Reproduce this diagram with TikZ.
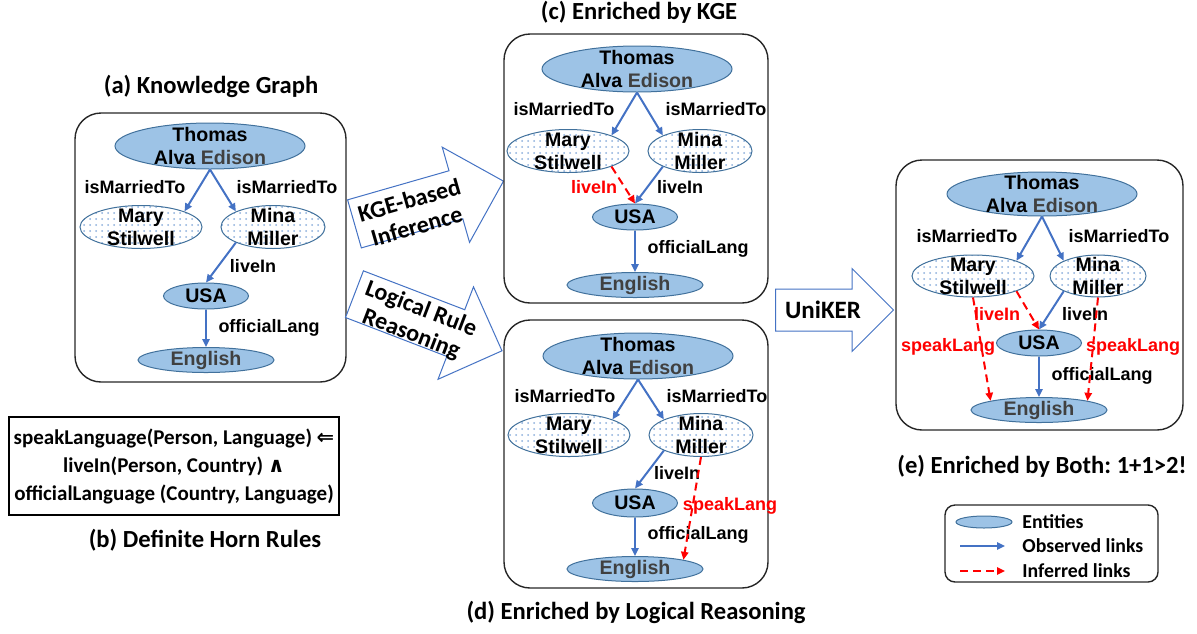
\documentclass[tikz,border=0pt]{standalone}
\usepackage{fontspec}
\setmainfont{Liberation Sans}
\newfontfamily\calibri{Carlito}
\newfontfamily\symfont{DejaVu Sans}
\usetikzlibrary{arrows.meta, shapes.geometric, shapes.arrows, patterns}
\definecolor{entfill}{RGB}{157,195,230}
\definecolor{entdraw}{RGB}{65,113,156}
\definecolor{linkblue}{RGB}{68,114,196}
\definecolor{txtgray}{RGB}{64,64,64}
\definecolor{dotblue}{RGB}{140,175,220}
\frenchspacing

\begin{document}
\begin{tikzpicture}[x=0.5pt, y=-0.5pt,
        panel/.style={draw=black!85, line width=0.7pt, rounded corners=13pt},
        entity/.style={ellipse, draw=entdraw, line width=0.5pt, fill=entfill, inner sep=0pt},
        person/.style={ellipse, draw=entdraw, line width=0.5pt, preaction={fill=white}, pattern=dots, pattern color=dotblue, inner sep=0pt, minimum width=61pt, minimum height=21.5pt},
        thomas/.style={entity, minimum width=95pt, minimum height=23pt},
        usa/.style={entity, minimum width=42.5pt, minimum height=13pt},
        english/.style={entity, minimum width=68pt, minimum height=12.5pt},
        entlabel/.style={align=center, inner sep=0pt, font=\fontsize{9.8}{11.5}\selectfont\bfseries},
        rel/.style={inner sep=0pt, font=\fontsize{9}{10}\selectfont\bfseries},
        infrel/.style={rel, text=red},
        obs/.style={draw=linkblue, line width=1pt, -{Triangle[length=4pt, width=3.6pt]}},
        infer/.style={draw=red, line width=1pt, dash pattern=on 4pt off 2.5pt, -{Triangle[length=4pt, width=3.6pt]}},
        caption/.style={inner sep=0pt, font=\calibri\fontsize{12.3}{14}\selectfont\bfseries},
        legtext/.style={inner sep=0pt, anchor=west, font=\calibri\fontsize{9.9}{11}\selectfont\bfseries},
        blockarrow/.style={single arrow, draw=linkblue, line width=0.5pt, fill=white, inner xsep=0pt, single arrow tip angle=90},
        arrowtext/.style={align=center, inner sep=0pt, font=\calibri\fontsize{12}{13.5}\selectfont\bfseries}
    ]
    \useasboundingbox (0,0) rectangle (1197,633);

    % (a) knowledge graph
    \draw[panel] (75,113) rectangle (346,382);
    \node[caption] (capA) at (211,86) {(a) Knowledge Graph};
    \node[thomas, label={[entlabel]center:{Thomas\\Alva \textcolor{txtgray}{Edison}}}] (thomasA) at (210,146) {};
    \node[person, label={[entlabel]center:{Mary\\Stilwell}}] (maryA) at (141,227) {};
    \node[person, minimum width=52pt, label={[entlabel]center:{Mina\\Miller}}] (minaA) at (273,227) {};
    \node[usa, label={[entlabel]center:USA}] (usaA) at (206,296) {};
    \node[english, label={[entlabel, text=txtgray]center:English}] (englishA) at (206,360) {};
    \node[rel] (marA1) at (135,187) {isMarriedTo};
    \node[rel] (marA2) at (287,187) {isMarriedTo};
    \node[rel] (liveA) at (253,266) {liveIn};
    \node[rel] (offA) at (269,328) {officialLang};
    \draw[obs] (thomasA.south) -- (maryA.north east);
    \draw[obs] (thomasA.south) -- (minaA.north west);
    \draw[obs] (minaA.south west) -- (usaA.north);
    \draw[obs] (usaA.south) -- (englishA.north);

    % (b) horn rule
    \node[draw, line width=0.6pt, minimum width=165pt, minimum height=49pt, align=center, inner sep=0pt,
          font=\calibri\fontsize{10.5}{14}\selectfont\bfseries] (rule) at (174,466)
          {speakLanguage(Person, Language) {\symfont ⇐}\\liveIn(Person, Country) {\symfont ∧}\\officialLanguage (Country, Language)};
    \node[caption] (capB) at (205,540) {(b) Definite Horn Rules};

    % block arrows
    \node[blockarrow, minimum height=77.5pt, minimum width=49pt, inner ysep=12.25pt, single arrow head extend=12.25pt, rotate=16, anchor=tail] (kgeArrow) at (354,224) {};
    \node[arrowtext, rotate=16] (kgeText) at (413,213) {KGE-based\\Inference};
    \node[blockarrow, minimum height=79pt, minimum width=49pt, inner ysep=12.25pt, single arrow head extend=12.25pt, rotate=-21, anchor=tail] (ruleArrow) at (354,294) {};
    \node[arrowtext, rotate=-21] (ruleText) at (416,322) {Logical Rule\\Reasoning};
    \node[blockarrow, minimum height=59pt, minimum width=41pt, inner ysep=10.25pt, single arrow head extend=10.25pt, anchor=tail] (unikerArrow) at (775,310) {};
    \node[arrowtext, font=\calibri\fontsize{12.5}{14}\selectfont\bfseries] (unikerText) at (823,310) {UniKER};

    % (c) enriched by KGE
    \draw[panel] (504,34) rectangle (768,303);
    \node[caption] (capC) at (639,12) {(c) Enriched by KGE};
    \node[thomas, label={[entlabel]center:{Thomas\\Alva \textcolor{txtgray}{Edison}}}] (thomasC) at (637,69) {};
    \node[person, label={[entlabel]center:{Mary\\Stilwell}}] (maryC) at (568,151) {};
    \node[person, minimum width=52pt, label={[entlabel]center:{Mina\\Miller}}] (minaC) at (700,151) {};
    \node[usa, label={[entlabel]center:USA}] (usaC) at (635,217) {};
    \node[english, label={[entlabel, text=txtgray]center:English}] (englishC) at (635,285) {};
    \node[rel] (marC1) at (564,109) {isMarriedTo};
    \node[rel] (marC2) at (716,109) {isMarriedTo};
    \node[infrel] (liveC1) at (594,187) {liveIn};
    \node[rel] (liveC2) at (680,187) {liveIn};
    \node[rel] (offC) at (698,249) {officialLang};
    \draw[obs] (thomasC.south) -- (maryC.north east);
    \draw[obs] (thomasC.south) -- (minaC.north west);
    \draw[obs] (minaC.south west) -- (usaC.north);
    \draw[obs] (usaC.south) -- (englishC.north);
    \draw[infer] (maryC.south east) -- (usaC.north);

    % (d) enriched by logical reasoning
    \draw[panel] (504,320) rectangle (768,588);
    \node[caption] (capD) at (636,612) {(d) Enriched by Logical Reasoning};
    \node[thomas, label={[entlabel]center:{Thomas\\Alva \textcolor{txtgray}{Edison}}}] (thomasD) at (638,356) {};
    \node[person, label={[entlabel]center:{Mary\\Stilwell}}] (maryD) at (569,435) {};
    \node[person, minimum width=52pt, label={[entlabel]center:{Mina\\Miller}}] (minaD) at (701,435) {};
    \node[usa, minimum height=14pt, label={[entlabel]center:USA}] (usaD) at (635,503) {};
    \node[english, label={[entlabel, text=txtgray]center:English}] (englishD) at (635,569) {};
    \node[rel] (marD1) at (565,396) {isMarriedTo};
    \node[rel] (marD2) at (717,396) {isMarriedTo};
    \node[rel] (liveD) at (677,473) {liveIn};
    \node[infrel] (speakD) at (730,506) {speakLang};
    \node[rel] (offD) at (698,535) {officialLang};
    \draw[obs] (thomasD.south) -- (maryD.north east);
    \draw[obs] (thomasD.south) -- (minaD.north west);
    \draw[obs] (minaD.south west) -- (usaD.north);
    \draw[obs] (usaD.south) -- (englishD.north);
    \draw[infer] (minaD.south) -- (englishD.north east);

    % (e) enriched by both
    \draw[panel] (896,160) rectangle (1183,430);
    \node[caption] (capE) at (1042,466) {(e) Enriched by Both: 1+1>2!};
    \node[thomas, minimum height=22pt, label={[entlabel]center:{Thomas\\Alva \textcolor{txtgray}{Edison}}}] (thomasE) at (1042,194) {};
    \node[person, minimum height=21pt, label={[entlabel]center:{Mary\\Stilwell}}] (maryE) at (973,276) {};
    \node[person, minimum width=48pt, minimum height=21pt, label={[entlabel]center:{Mina\\Miller}}] (minaE) at (1098,276) {};
    \node[usa, label={[entlabel]center:USA}] (usaE) at (1039,343) {};
    \node[english, label={[entlabel, text=txtgray]center:English}] (englishE) at (1039,410) {};
    \node[rel] (marE1) at (967,236) {isMarriedTo};
    \node[rel] (marE2) at (1119,236) {isMarriedTo};
    \node[infrel] (liveE1) at (997,314) {liveIn};
    \node[rel] (liveE2) at (1085,314) {liveIn};
    \node[infrel] (speakE1) at (948,347) {speakLang};
    \node[infrel] (speakE2) at (1133,347) {speakLang};
    \node[rel] (offE) at (1102,376) {officialLang};
    \draw[obs] (thomasE.south) -- (maryE.north east);
    \draw[obs] (thomasE.south) -- (minaE.north west);
    \draw[obs] (minaE.south west) -- (usaE.north);
    \draw[obs] (usaE.south) -- (englishE.north);
    \draw[infer] (maryE.south east) -- (usaE.north);
    \draw[infer] (maryE.south) -- (englishE.north west);
    \draw[infer] (minaE.south) -- (englishE.north east);

    % legend
    \draw[panel, rounded corners=5pt] (945,505) rectangle (1158,582);
    \node[entity, minimum width=28pt, minimum height=6pt] (legEnt) at (984,522) {};
    \coordinate (obsL) at (960,546);
    \coordinate (obsR) at (1005,546);
    \coordinate (infL) at (960,571);
    \coordinate (infR) at (1005,571);
    \draw[obs] (obsL) -- (obsR);
    \draw[infer] (infL) -- (infR);
    \node[legtext] (legT1) at (1022,522) {Entities};
    \node[legtext] (legT2) at (1022,546) {Observed links};
    \node[legtext] (legT3) at (1022,571) {Inferred links};
\end{tikzpicture}
\end{document}
